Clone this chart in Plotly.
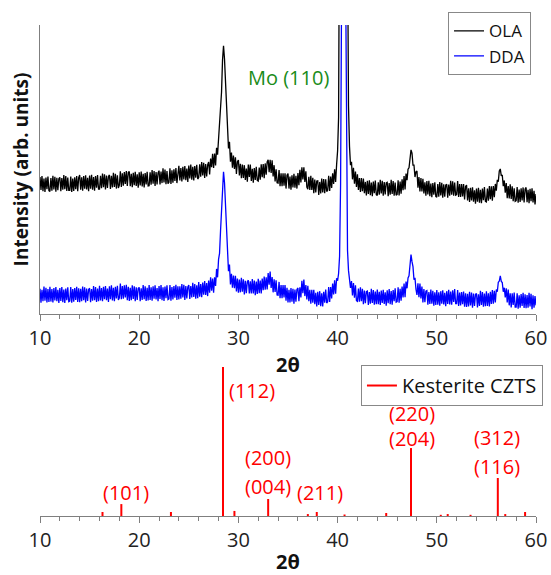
import numpy as np
import plotly.graph_objects as go

# --- XRD scan parameters (2-theta grid, degrees) ---
scan_start = 10.0
scan_step = 0.1
scan_points = 501

# --- OLA pattern (arb. units), one row per degree from 10 to 59, then 60 ---
ola = [
    47.4, 42.9, 47.7, 42.5, 46.9, 42.2, 47.2, 43.2, 47.6, 42.7,
    42.4, 47.0, 42.7, 47.8, 43.1, 47.5, 42.3, 47.1, 42.8, 46.8,
    47.3, 42.5, 47.0, 43.0, 48.1, 43.2, 47.7, 42.6, 47.2, 42.8,
    42.8, 47.6, 42.2, 46.9, 42.6, 47.3, 43.2, 47.7, 42.5, 47.2,
    48.1, 43.0, 47.3, 42.7, 47.7, 43.4, 48.0, 43.1, 47.1, 42.5,
    47.9, 43.4, 48.2, 43.0, 47.4, 42.7, 47.7, 43.7, 48.1, 43.2,
    43.2, 47.8, 43.5, 48.6, 43.9, 48.3, 43.1, 47.9, 43.6, 47.6,
    48.1, 43.3, 47.8, 43.8, 48.9, 44.0, 48.5, 43.4, 48.0, 43.6,
    44.6, 49.4, 44.0, 48.7, 44.4, 49.1, 45.0, 49.5, 44.3, 49.0,
    49.3, 44.2, 48.5, 43.9, 48.9, 44.6, 49.2, 44.3, 48.3, 43.7,
    49.0, 44.5, 49.3, 44.1, 48.5, 43.8, 48.8, 44.8, 49.2, 44.3,
    44.4, 49.0, 44.7, 49.8, 45.1, 49.5, 44.3, 49.1, 44.8, 48.8,
    49.6, 44.8, 49.3, 45.3, 50.4, 45.5, 50.0, 44.9, 49.5, 45.1,
    45.6, 50.4, 45.0, 49.7, 45.4, 50.1, 46.0, 50.5, 45.3, 50.0,
    51.3, 46.2, 50.5, 45.9, 50.9, 46.6, 51.2, 46.3, 50.3, 45.7,
    51.4, 46.9, 51.7, 46.5, 50.9, 46.2, 51.2, 47.2, 51.6, 46.7,
    47.2, 51.8, 47.5, 52.6, 47.9, 52.3, 47.1, 51.9, 47.6, 51.6,
    52.6, 48.3, 53.8, 50.8, 55.4, 50.5, 55.5, 51.4, 57.5, 55.1,
    61.5, 63.4, 70.8, 76.8, 87.9, 92.8, 88.2, 80.1, 69.0, 64.7,
    57.3, 59.6, 52.7, 55.9, 50.6, 54.8, 50.2, 54.2, 48.5, 52.7,
    53.3, 47.9, 52.0, 47.0, 51.7, 47.1, 51.5, 46.4, 50.3, 45.8,
    51.7, 47.4, 51.7, 46.0, 50.2, 45.4, 50.5, 46.4, 50.9, 46.2,
    46.0, 50.7, 46.5, 51.8, 47.3, 51.9, 47.0, 52.1, 48.2, 52.6,
    53.4, 49.1, 53.4, 48.8, 53.2, 47.6, 51.5, 45.9, 50.1, 45.4,
    45.3, 49.8, 44.2, 48.7, 44.2, 48.7, 44.4, 48.7, 43.4, 48.0,
    48.6, 43.4, 47.6, 43.0, 48.0, 43.8, 48.5, 43.7, 47.8, 43.4,
    48.8, 44.6, 49.9, 45.5, 50.8, 46.6, 50.8, 45.7, 49.4, 43.9,
    43.2, 47.5, 42.9, 47.8, 42.9, 47.1, 41.8, 46.5, 42.1, 46.0,
    46.1, 41.2, 45.7, 41.7, 46.9, 42.1, 46.7, 41.8, 46.6, 42.4,
    42.8, 47.8, 42.6, 47.6, 43.6, 48.7, 45.0, 50.1, 45.7, 51.7,
    56.5, 68.0, 140.0, 280.0, 400.0, 470.0, 480.0, 450.0, 360.0, 240.0,
    130.0, 72.0, 58.0, 51.5, 52.7, 46.6, 50.6, 45.1, 49.3, 44.0,
    48.3, 42.9, 47.0, 42.2, 47.0, 42.5, 46.9, 41.8, 45.7, 41.0,
    46.1, 41.5, 46.3, 41.1, 45.5, 40.8, 45.8, 41.8, 46.2, 41.3,
    41.0, 45.6, 41.3, 46.4, 41.7, 46.1, 40.9, 45.7, 41.4, 45.4,
    45.6, 40.8, 45.3, 41.3, 46.4, 41.5, 46.0, 40.9, 45.5, 41.1,
    41.4, 46.3, 41.0, 45.8, 41.6, 46.6, 42.8, 47.7, 43.1, 48.6,
    46.3, 50.1, 50.6, 55.3, 56.8, 55.7, 51.5, 51.5, 47.4, 49.2,
    49.5, 43.7, 47.4, 42.4, 47.0, 42.4, 46.8, 41.7, 45.6, 40.9,
    46.0, 41.4, 46.1, 40.8, 45.1, 40.4, 45.3, 41.3, 45.6, 40.7,
    40.4, 45.0, 40.6, 45.7, 41.0, 45.4, 40.2, 44.9, 40.6, 44.6,
    44.9, 40.2, 44.8, 40.9, 46.1, 41.3, 45.9, 40.9, 45.5, 41.1,
    41.3, 46.0, 40.5, 45.0, 40.5, 45.0, 40.7, 45.0, 39.6, 44.1,
    44.6, 39.3, 43.5, 38.8, 43.7, 39.3, 43.8, 38.9, 42.8, 38.2,
    43.4, 38.9, 43.7, 38.5, 43.0, 38.3, 43.4, 39.4, 43.9, 39.0,
    38.8, 43.4, 39.2, 44.3, 39.7, 44.2, 39.2, 44.3, 40.4, 45.0,
    42.7, 46.4, 45.8, 49.5, 50.2, 47.8, 48.1, 44.2, 46.2, 42.0,
    45.3, 40.1, 44.3, 40.0, 44.9, 39.8, 44.2, 39.0, 43.5, 39.0,
    39.2, 43.9, 38.5, 43.1, 38.8, 43.5, 39.3, 43.8, 38.6, 43.2,
    43.8, 38.7, 43.0, 38.3, 43.3, 39.0, 43.5, 38.6, 42.6, 37.9,
    41.5,
]

# --- DDA pattern (arb. units) ---
dda = [
    8.7, 3.9, 8.4, 4.4, 9.5, 4.6, 9.1, 4.0, 8.6, 4.2,
    9.4, 4.3, 8.6, 4.0, 9.0, 4.7, 9.3, 4.4, 8.4, 3.8,
    9.0, 4.5, 9.3, 4.1, 8.5, 3.8, 8.8, 4.8, 9.2, 4.3,
    4.5, 9.3, 3.9, 8.6, 4.3, 9.0, 4.9, 9.4, 4.2, 8.9,
    4.1, 8.7, 4.4, 9.5, 4.8, 9.2, 4.0, 8.8, 4.5, 8.5,
    8.9, 4.1, 8.6, 4.6, 9.7, 4.8, 9.3, 4.2, 8.8, 4.4,
    9.8, 4.7, 9.0, 4.4, 9.4, 5.1, 9.7, 4.8, 8.8, 4.2,
    9.6, 5.1, 9.9, 4.7, 9.1, 4.4, 9.4, 5.4, 9.8, 4.9,
    5.6, 10.5, 5.1, 9.7, 5.3, 9.9, 5.7, 10.1, 4.8, 9.4,
    4.5, 9.1, 4.8, 9.9, 5.2, 9.6, 4.4, 9.2, 4.9, 8.9,
    9.2, 4.4, 8.9, 4.9, 10.0, 5.1, 9.6, 4.5, 9.1, 4.7,
    10.0, 4.9, 9.2, 4.6, 9.6, 5.3, 9.9, 5.0, 9.0, 4.4,
    9.7, 5.2, 10.0, 4.8, 9.2, 4.5, 9.5, 5.5, 9.9, 5.0,
    5.2, 10.0, 4.6, 9.3, 5.0, 9.7, 5.6, 10.1, 4.9, 9.6,
    5.0, 9.6, 5.3, 10.4, 5.7, 10.1, 4.9, 9.7, 5.4, 9.4,
    10.0, 5.2, 9.7, 5.7, 10.8, 5.9, 10.4, 5.3, 9.9, 5.5,
    11.1, 6.0, 10.4, 5.8, 10.9, 6.7, 11.4, 6.6, 10.7, 6.2,
    11.6, 7.4, 12.7, 8.1, 12.3, 7.4, 12.7, 9.7, 15.6, 12.7,
    18.9, 21.0, 28.8, 35.1, 44.5, 49.2, 45.4, 38.0, 26.9, 22.2,
    14.8, 17.1, 10.2, 13.9, 9.1, 13.3, 8.9, 13.2, 7.8, 12.3,
    7.4, 11.9, 7.5, 12.5, 7.7, 12.0, 6.8, 11.5, 7.2, 11.2,
    11.7, 7.1, 11.3, 7.1, 12.1, 7.1, 11.6, 6.5, 11.2, 6.9,
    12.2, 7.2, 11.6, 7.1, 12.3, 8.2, 13.0, 8.4, 12.7, 8.5,
    14.2, 10.1, 14.7, 9.0, 12.8, 7.5, 12.0, 7.6, 11.7, 6.6,
    6.5, 11.1, 5.5, 10.0, 5.5, 10.0, 5.7, 10.0, 4.6, 9.1,
    4.0, 8.4, 4.0, 9.0, 4.3, 8.7, 3.6, 8.5, 4.3, 8.5,
    9.0, 4.4, 9.2, 5.7, 11.5, 7.2, 11.9, 6.2, 10.0, 5.0,
    9.8, 4.4, 8.4, 3.6, 8.4, 3.9, 8.4, 3.4, 7.3, 2.6,
    7.7, 3.1, 7.9, 2.7, 7.2, 2.6, 7.7, 3.9, 8.5, 3.8,
    4.2, 9.3, 4.2, 9.3, 5.4, 10.5, 6.8, 11.7, 7.0, 12.4,
    11.5, 14.0, 20.0, 45.0, 110.0, 300.0, 420.0, 300.0, 120.0, 45.0,
    22.0, 15.0, 12.3, 9.0, 11.4, 6.4, 10.7, 5.6, 9.9, 4.6,
    4.4, 8.8, 4.3, 9.2, 4.4, 8.7, 3.4, 8.1, 3.7, 7.7,
    7.9, 3.1, 7.6, 3.6, 8.7, 3.8, 8.3, 3.2, 7.8, 3.4,
    8.5, 3.4, 7.7, 3.1, 8.1, 3.8, 8.4, 3.5, 7.5, 2.9,
    8.2, 3.7, 8.6, 3.4, 7.9, 3.2, 8.3, 4.4, 8.9, 4.1,
    4.3, 9.2, 3.9, 8.7, 4.6, 9.5, 5.7, 10.5, 5.8, 11.2,
    8.9, 12.5, 13.2, 18.1, 20.6, 18.1, 16.4, 11.9, 12.5, 8.6,
    6.6, 10.6, 5.8, 10.5, 5.4, 9.5, 4.0, 8.6, 4.1, 7.9,
    8.1, 3.2, 7.6, 3.5, 8.5, 3.6, 8.0, 2.9, 7.5, 3.1,
    8.3, 3.2, 7.5, 2.9, 7.9, 3.6, 8.2, 3.3, 7.3, 2.7,
    7.9, 3.5, 8.4, 3.3, 7.8, 3.2, 8.2, 4.2, 8.6, 3.6,
    3.6, 8.3, 2.8, 7.4, 3.0, 7.6, 3.4, 7.8, 2.5, 7.2,
    2.4, 7.0, 2.6, 7.7, 3.0, 7.4, 2.2, 7.1, 2.8, 6.8,
    7.1, 2.3, 6.8, 2.8, 8.0, 3.1, 7.6, 2.5, 7.1, 2.7,
    7.9, 2.8, 7.2, 2.6, 7.7, 3.5, 8.3, 3.6, 8.0, 4.0,
    8.5, 7.7, 11.0, 11.4, 13.2, 11.3, 10.9, 7.7, 9.1, 5.7,
    8.9, 4.0, 8.5, 3.0, 7.2, 2.3, 7.2, 3.1, 7.4, 2.4,
    2.4, 7.2, 1.8, 6.5, 2.2, 6.9, 2.8, 7.3, 2.1, 6.8,
    2.0, 6.6, 2.2, 7.3, 2.6, 7.0, 1.7, 6.5, 2.2, 6.2,
    3.0,
]

# --- Kesterite CZTS reference pattern ---
czts_2theta = [16.3, 18.2, 23.2, 28.45, 29.6, 33.0, 37.0, 37.9, 40.7, 44.9,
               47.4, 50.4, 51.1, 53.4, 56.15, 56.9, 58.9]
czts_int = [2.7, 8.0, 2.7, 100.0, 3.4, 11.4, 1.3, 2.7, 1.0, 2.0,
            45.6, 0.8, 1.3, 0.8, 25.5, 1.3, 2.7]

# hkl labels: text, 2theta, height
hkl_text = ["(112)", "(101)", "(200)", "(004)", "(211)", "(220)", "(204)", "(312)", "(116)"]
hkl_x = [31.4, 18.7, 33.0, 33.0, 38.2, 47.5, 47.5, 56.1, 56.1]
hkl_y = [84, 15.5, 39, 19.5, 15.5, 68.5, 52.3, 53, 33]

tick_vals = [10, 20, 30, 40, 50, 60]

two_theta = np.round(scan_start + scan_step * np.arange(scan_points), 2)

FONT = "Open Sans"
AX_GREY = "#7f7f7f"

fig = go.Figure()

fig.add_trace(go.Scatter(x=two_theta, y=ola, mode="lines", name="OLA",
                         line=dict(color="black", width=1.3), xaxis="x", yaxis="y",
                         legend="legend"))
fig.add_trace(go.Scatter(x=two_theta, y=dda, mode="lines", name="DDA",
                         line=dict(color="#0000ff", width=1.3), xaxis="x", yaxis="y",
                         legend="legend"))

sx, sy = [], []
for p, h in zip(czts_2theta, czts_int):
    sx += [p, p, None]
    sy += [0, h, None]
fig.add_trace(go.Scatter(x=sx, y=sy, mode="lines", name="Kesterite CZTS",
                         line=dict(color="#ff0000", width=2), xaxis="x2", yaxis="y2",
                         legend="legend2"))

xaxis_common = dict(
    range=[10, 60], tickvals=tick_vals, ticks="outside", ticklen=6, tickwidth=1,
    tickcolor=AX_GREY, showline=True, linecolor=AX_GREY, linewidth=1,
    showgrid=False, zeroline=False,
    minor=dict(dtick=2, ticks="outside", ticklen=4, tickcolor=AX_GREY, showgrid=False),
    tickfont=dict(family=FONT, size=20, color="#222"),
)

fig.update_layout(
    width=551, height=575,
    margin=dict(l=40, r=15, t=25, b=59, autoexpand=False),
    paper_bgcolor="white", plot_bgcolor="white",
    font=dict(family=FONT, color="#222"),
    xaxis=dict(**xaxis_common, domain=[0, 1], anchor="y",
               title=dict(text="<b>2θ</b>", font=dict(family=FONT, size=20, color="#111"), standoff=7)),
    yaxis=dict(domain=[0.4114, 1], range=[0, 100], showticklabels=False, ticks="",
               showline=True, linecolor=AX_GREY, linewidth=1, showgrid=False, zeroline=False,
               title=dict(text="<b>Intensity (arb. units)</b>", font=dict(family=FONT, size=19, color="#111"), standoff=5)),
    xaxis2=dict(**xaxis_common, domain=[0, 1], anchor="y2",
                title=dict(text="<b>2θ</b>", font=dict(family=FONT, size=20, color="#111"), standoff=10)),
    yaxis2=dict(domain=[0, 0.3035], range=[0, 100], visible=False),
    legend=dict(x=0.99, y=1.026, xanchor="right", yanchor="top",
                bgcolor="white", bordercolor="#888", borderwidth=1,
                font=dict(family=FONT, size=17, color="#111"), tracegroupgap=0),
    legend2=dict(x=1.014, y=0.3075, xanchor="right", yanchor="top",
                 bgcolor="white", bordercolor="#888", borderwidth=1,
                 font=dict(family=FONT, size=20, color="#111")),
    showlegend=True,
)

fig.add_annotation(x=35.1, y=81.7, xref="x", yref="y", text="Mo (110)", showarrow=False,
                   font=dict(family=FONT, size=20, color="#1a8c1a"))

for t, xx, yy in zip(hkl_text, hkl_x, hkl_y):
    fig.add_annotation(x=xx, y=yy, xref="x2", yref="y2", text=t, showarrow=False,
                       font=dict(family=FONT, size=20, color="#ff0000"))

fig.write_html("out.html")
